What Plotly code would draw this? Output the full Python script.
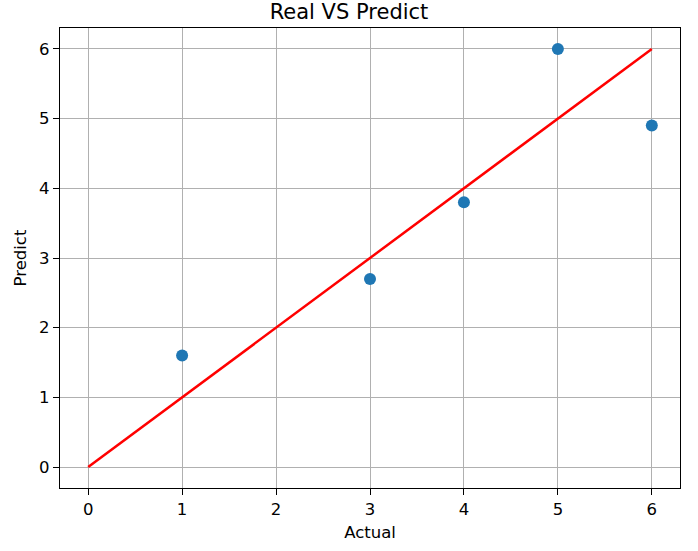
import plotly.graph_objects as go

actual = [1, 3, 4, 5, 6]
predict = [1.6, 2.7, 3.8, 6.0, 4.9]
line_x = [0, 6]
line_y = [0, 6]
tick_vals = [0, 1, 2, 3, 4, 5, 6]

fig = go.Figure()
fig.add_trace(go.Scatter(x=actual, y=predict, mode='markers',
                         marker=dict(color='#1f77b4', size=12)))
fig.add_trace(go.Scatter(x=line_x, y=line_y, mode='lines',
                         line=dict(color='red', width=2.5)))

axis_style = dict(range=[-0.3, 6.3], tickvals=tick_vals, showgrid=True,
                  gridcolor='#b0b0b0', gridwidth=1.2, zeroline=False,
                  showline=True, linecolor='black', linewidth=1.3, mirror=True,
                  ticks='outside', ticklen=6, tickwidth=1.3, tickcolor='black',
                  tickfont=dict(size=16.5, color='black'), layer='above traces')

fig.update_xaxes(title=dict(text='Actual', font=dict(size=16.5, color='black'), standoff=8), **axis_style)
fig.update_yaxes(title=dict(text='Predict', font=dict(size=16.5, color='black'), standoff=8), **axis_style)

fig.update_layout(
    width=698, height=551,
    title=dict(text='Real VS Predict', x=0.5, xanchor='center', y=1 - 12 / 551, yanchor='middle',
               font=dict(size=21, color='black')),
    font=dict(family='DejaVu Sans'),
    showlegend=False,
    plot_bgcolor='white', paper_bgcolor='white',
    margin=dict(l=60, r=18, t=28, b=61),
)

fig.write_html("out.html", config={'displayModeBar': False},
               post_script="document.body.style.margin='0';")
